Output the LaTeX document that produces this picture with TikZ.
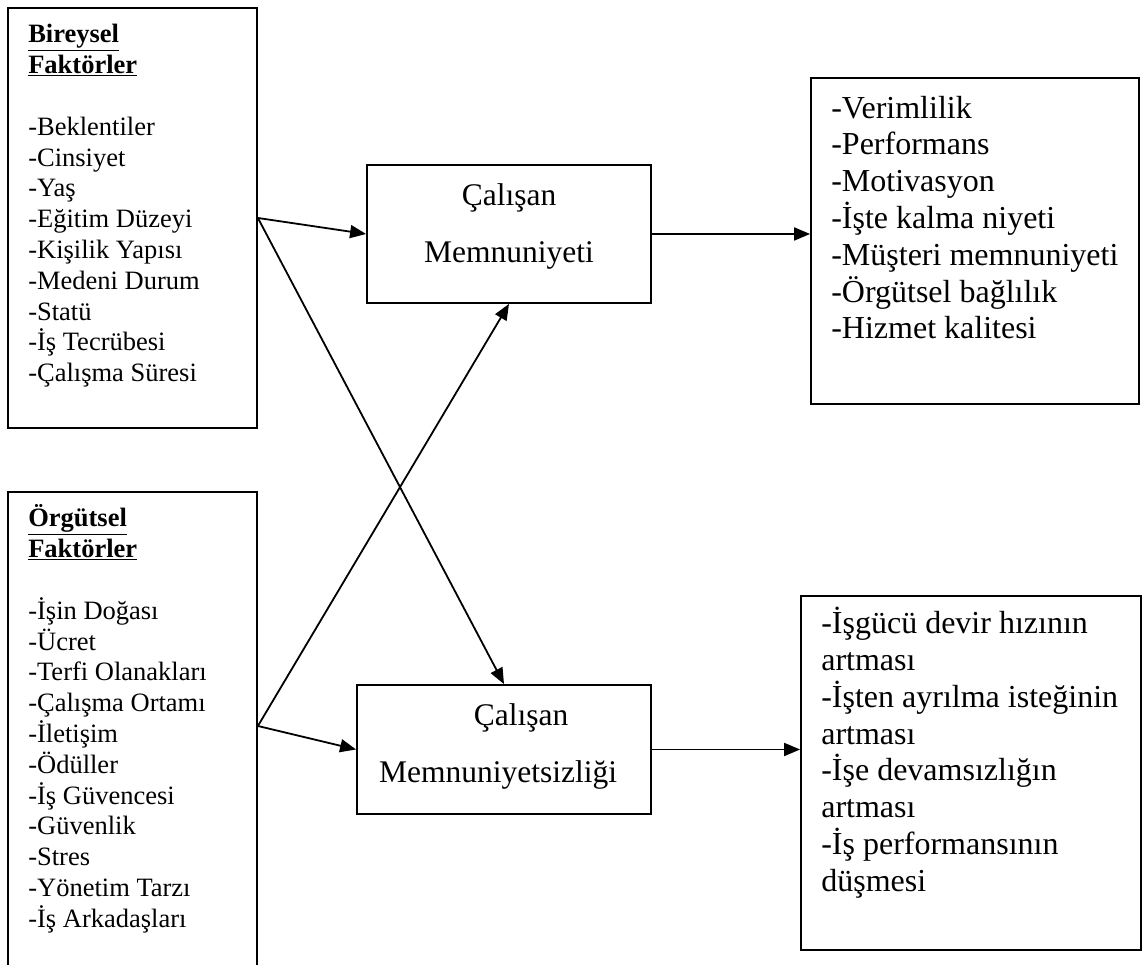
\documentclass[tikz,border=0pt]{standalone}
\usepackage{fontspec}
\setmainfont{Liberation Serif}
\usepackage{tikz}
\usetikzlibrary{positioning, arrows.meta}

\begin{document}
\begin{tikzpicture}[x=1pt, y=1pt]
	% Define styles
	\tikzset{
		box/.style={rectangle, draw, line width=1.8pt, inner sep=0pt},
		line/.style={draw, line width=1.8pt, -{Triangle[length=16pt, width=13pt]}},
		facts/.style={inner sep=0pt, align=left, font=\fontsize{26.5}{30.8}\selectfont},
		effects/.style={inner sep=0pt, align=left, font=\fontsize{32}{36.8}\selectfont},
		centre/.style={inner sep=0pt, align=center, font=\fontsize{31.5}{57}\selectfont}
	}
	\useasboundingbox (0,0) rectangle (1142,965);
	
	% Boxes
	\node[box, minimum width=249pt, minimum height=420pt] (bir) at (132.5,747) {};
	\node[box, minimum width=249pt, minimum height=483pt] (org) at (132.5,231.5) {};
	\node[box, minimum width=284pt, minimum height=138pt] (mem) at (509,731) {};
	\node[box, minimum width=294pt, minimum height=129pt] (dis) at (504,215.5) {};
	\node[box, minimum width=328pt, minimum height=326pt] (pos) at (975,724) {};
	\node[box, minimum width=340pt, minimum height=354pt] (neg) at (971,192) {};
	\coordinate (orgout) at ([yshift=7.5pt]org.east);
	
	% Texts
	\node[facts, below right=14pt and 21pt of bir.north west] (birtext) {\strut\textbf{\underline{Bireysel}}\\
		\textbf{\underline{Faktörler}}\\[30.8pt]
		-Beklentiler\\ -Cinsiyet\\ -Yaş\\ -Eğitim Düzeyi\\ -Kişilik Yapısı\\
		-Medeni Durum\\ -Statü\\ -İş Tecrübesi\\ -Çalışma Süresi};
	\node[facts, below right=13.5pt and 21pt of org.north west] (orgtext) {\strut\textbf{\underline{Örgütsel}}\\
		\textbf{\underline{Faktörler}}\\[30.8pt]
		-İşin Doğası\\ -Ücret\\ -Terfi Olanakları\\ -Çalışma Ortamı\\ -İletişim\\
		-Ödüller\\ -İş Güvencesi\\ -Güvenlik\\ -Stres\\ -Yönetim Tarzı\\ -İş Arkadaşları};
	\node[centre, below=1pt of mem.north] (memtext) {\strut Çalışan\\ Memnuniyeti};
	\node[centre, below=1pt of dis.north, xshift=-6pt] (distext) {\strut\hspace*{46pt}Çalışan\\ Memnuniyetsizliği};
	\node[effects, below right=15pt and 21pt of pos.north west] (postext) {\strut -Verimlilik\\ -Performans\\
		-Motivasyon\\ -İşte kalma niyeti\\ -Müşteri memnuniyeti\\ -Örgütsel bağlılık\\ -Hizmet kalitesi};
	\node[effects, below right=12pt and 21pt of neg.north west] (negtext) {\strut -İşgücü devir hızının\\ artması\\
		-İşten ayrılma isteğinin\\ artması\\ -İşe devamsızlığın\\ artması\\ -İş performansının\\ düşmesi};
	
	% Arrows
	\draw[line] (bir.east) -- (mem.west);
	\draw[line] (bir.east) -- (dis.north);
	\draw[line] (orgout) -- (mem.south);
	\draw[line] (orgout) -- (dis.west);
	\draw[line] (mem.east) -- (mem.east -| pos.west);
	\draw[line] (dis.east) -- (dis.east -| neg.west);
	
\end{tikzpicture}
\end{document}
